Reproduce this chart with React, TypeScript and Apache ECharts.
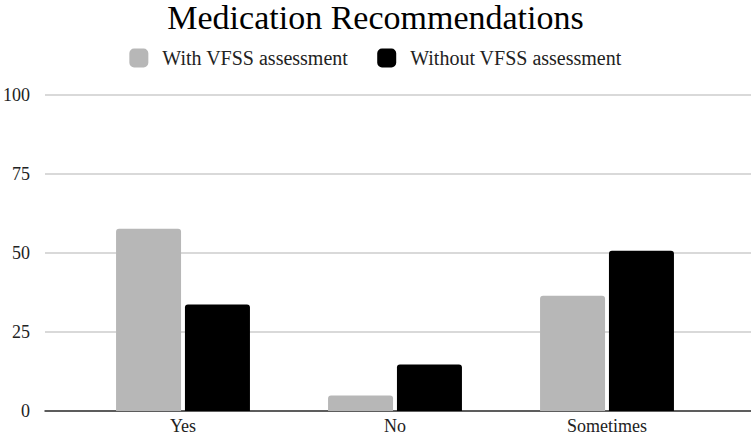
import React, { useEffect, useRef } from "react";
import * as echarts from "echarts";

const categories = ["Yes", "No", "Sometimes"];
const withVfss = [57.7, 4.9, 36.5];
const withoutVfss = [33.7, 14.7, 50.7];
const yTicks = { min: 0, max: 100, interval: 25 };

const FONT = "Liberation Serif";

export default function App() {
  const ref = useRef<HTMLDivElement>(null);

  useEffect(() => {
    if (!ref.current) return;
    const chart = echarts.init(ref.current, undefined, { renderer: "svg" });
    chart.setOption({
      animation: false,
      backgroundColor: "#ffffff",
      textStyle: { fontFamily: FONT },
      title: {
        text: "Medication Recommendations",
        left: "center",
        top: 0,
        padding: 0,
        textStyle: { fontFamily: FONT, fontSize: 34, fontWeight: "normal", color: "#000" },
      },
      legend: {
        top: 48,
        left: "center",
        padding: 0,
        icon: "roundRect",
        itemWidth: 19,
        itemHeight: 19,
        itemGap: 29,
        textStyle: { fontFamily: FONT, fontSize: 20, color: "#222", padding: [0, 0, 0, 9] },
        data: ["With VFSS assessment", "Without VFSS assessment"],
      },
      grid: [
        { left: 41, right: 0, top: 95, bottom: 28 },
        { left: 77, right: 38, top: 95, bottom: 28 },
      ],
      xAxis: [
        {
          // full-width baseline under the bars
          gridIndex: 0,
          type: "value",
          min: 0,
          max: 1,
          axisLine: { show: true, lineStyle: { color: "#333", width: 1.5 } },
          axisTick: { show: false },
          axisLabel: { show: false },
          splitLine: { show: false },
        },
        {
          gridIndex: 1,
          type: "category",
          data: categories,
          axisLine: { show: false },
          axisTick: { show: false },
          axisLabel: { fontFamily: FONT, fontSize: 18, color: "#222", margin: 6 },
        },
      ],
      yAxis: [
        {
          gridIndex: 0,
          type: "value",
          ...yTicks,
          axisLine: { show: false },
          axisTick: { show: false },
          axisLabel: { fontFamily: FONT, fontSize: 18, color: "#222", margin: 15 },
          splitLine: { lineStyle: { color: "#cccccc", width: 1.5 } },
        },
        {
          gridIndex: 1,
          type: "value",
          ...yTicks,
          show: false,
          splitLine: { show: false },
        },
      ],
      series: [
        {
          name: "With VFSS assessment",
          type: "bar",
          xAxisIndex: 1,
          yAxisIndex: 1,
          data: withVfss,
          barWidth: 65,
          barGap: "6%",
          itemStyle: { color: "#b7b7b7", borderRadius: [3, 3, 0, 0] },
        },
        {
          name: "Without VFSS assessment",
          type: "bar",
          xAxisIndex: 1,
          yAxisIndex: 1,
          data: withoutVfss,
          barWidth: 65,
          barGap: "6%",
          itemStyle: { color: "#000000", borderRadius: [3, 3, 0, 0] },
        },
      ],
    });
    return () => chart.dispose();
  }, []);

  return (
    <div
      ref={ref}
      style={{ position: "fixed", left: 0, top: 0, width: 751, height: 439 }}
    />
  );
}
